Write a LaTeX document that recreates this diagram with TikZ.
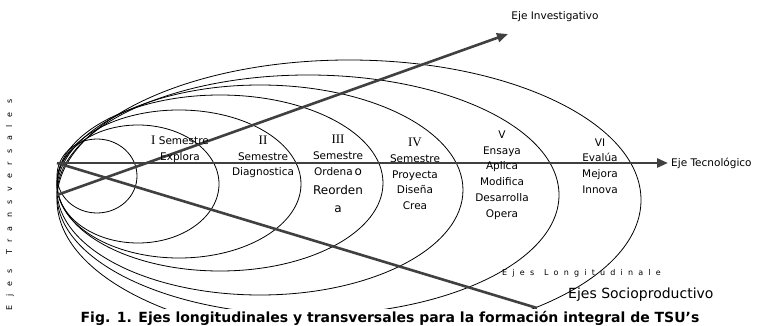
\documentclass[tikz,border=0pt]{standalone}
\usepackage{fontspec}
\setmainfont{DejaVu Sans}
\newfontfamily\romfont{Liberation Serif}
\newcommand{\rn}[1]{{\romfont\fontsize{13}{15.8}\selectfont #1}}
\usetikzlibrary{arrows.meta}

\tikzset{
  ring/.style={draw=black, line width=0.8pt},
  axis/.style={draw=black!75, line width=2.6pt},
  tip/.style={-{Triangle[length=11pt,width=9pt]}},
  sem/.style={align=center, inner sep=0pt, font=\fontsize{10.5}{15.8}\selectfont},
  spaced/.style={inner sep=0pt, font=\fontsize{8}{10}\selectfont\addfontfeature{LetterSpace=#1}},
}

\begin{document}
\begin{tikzpicture}[x=1pt,y=-1pt]
    \useasboundingbox (0,0) rectangle (761,326);

    % semestres
    \begin{scope}
      \clip (0,0) rectangle (761,308);
      \foreach \cx/\cy/\rx/\ry in {97/176/40/37, 138/184/81/59, 179/184/122/74,
        220/183/163/88, 260/190/203/105, 308/195/251/120, 349/200/292/140}
        \draw[ring] (\cx,\cy) ellipse [x radius=\rx, y radius=\ry];
    \end{scope}

    % ejes
    \coordinate (o) at (57,163);
    \coordinate (oinv) at (57,195);
    \coordinate (tec) at (668,163);
    \coordinate (inv) at (508,34);
    \coordinate (soc) at (537,308);
    \draw[axis,tip] (o) -- (tec);
    \draw[axis,tip] (oinv) -- (inv);
    \draw[axis] (o) -- (soc);

    \node[anchor=west,inner sep=0pt,font=\fontsize{10.5}{12}\selectfont] (ltec) at (671,163) {Eje Tecnológico};
    \node[inner sep=0pt,font=\fontsize{10.5}{12}\selectfont] (linv) at (555,17) {Eje Investigativo};
    \node[anchor=west,inner sep=0pt,font=\fontsize{14}{16}\selectfont] (lsoc) at (568,295) {Ejes Socioproductivo};
    \node[spaced=65,anchor=west] (llon) at (502,273) {Ejes\hspace{10pt}Longitudinale};
    \node[spaced=105,rotate=90] (ltra) at (10,205) {Ejes\hspace{14pt}Transversales};

    % etiquetas
    \node[sem] (s1) at (180,149) {\rn{I} Semestre\\Explora};
    \node[sem] (s2) at (263,157) {\rn{II}\\Semestre\\Diagnostica};
    \node[sem,anchor=north] (s3) at (338,135)
      {\rn{III}\\Semestre\\Ordena\,{\large o}\\[3pt]{\large Reorden}\\[3pt]{\large a}};
    \node[sem] (s4) at (415,174) {\rn{IV}\\Semestre\\Proyecta\\Diseña\\Crea};
    \node[sem] (s5) at (502,175) {V\\Ensaya\\Aplica\\Modifica\\Desarrolla\\Opera};
    \node[sem] (s6) at (600,166) {VI\\Evalúa\\Mejora\\Innova};

    \node[anchor=base,inner sep=0pt,font=\fontsize{14}{16}\selectfont\bfseries] (cap) at (390,322.5)
      {Fig. 1. Ejes longitudinales y transversales para la formación integral de TSU's};
\end{tikzpicture}
\end{document}
